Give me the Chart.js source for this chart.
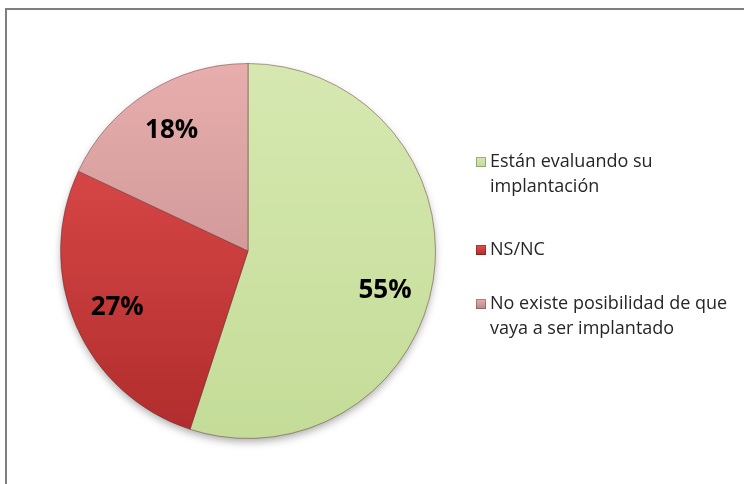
<!DOCTYPE html>
<html>
<head>
<meta charset="utf-8">
<script src="https://cdn.jsdelivr.net/npm/chart.js@4.4.1/dist/chart.umd.min.js"></script>
<style>
  html,body{margin:0;padding:0;background:#fff;}
  #wrap{width:744px;height:484px;position:relative;}
</style>
</head>
<body>
<div id="wrap"><canvas id="c" width="744" height="484"></canvas></div>
<script>
const categories = [
  ["Están evaluando su", "implantación"],
  ["NS/NC"],
  ["No existe posibilidad de que", "vaya a ser implantado"]
];
const values = [55, 27, 18];
const valueLabels = ["55%", "27%", "18%"];
const topColors = ["#D6E8B0", "#E55050", "#E8AEAE"];
const bottomColors = ["#C4DC98", "#B02C2C", "#BC8686"];

const FONT = "'Open Sans', Lato, sans-serif";
// where along each slice's arc its label sits (0 = start, 1 = end)
const labelArcFraction = [0.535, 0.5, 0.5];

function sliceGradient(ctx, i) {
  const chart = ctx.chart;
  const area = chart.chartArea;
  if (!area) return topColors[i];
  const g = chart.ctx.createLinearGradient(0, area.top, 0, area.bottom);
  g.addColorStop(0, topColors[i]);
  g.addColorStop(1, bottomColors[i]);
  return g;
}

const framePlugin = {
  id: 'frame',
  beforeDraw(chart) {
    const c = chart.ctx;
    c.save();
    c.fillStyle = '#fff';
    c.fillRect(0, 0, chart.width, chart.height);
    c.strokeStyle = '#7f7f7f';
    c.lineWidth = 2;
    c.strokeRect(6, 9, 900, 700);
    c.restore();
  },
  beforeDatasetsDraw(chart) {
    const meta = chart.getDatasetMeta(0);
    if (!meta.data.length) return;
    const a = meta.data[0];
    const c = chart.ctx;
    c.save();
    c.shadowColor = 'rgba(0,0,0,0.35)';
    c.shadowBlur = 8;
    c.shadowOffsetY = 4;
    c.fillStyle = '#ccc';
    c.beginPath();
    c.arc(a.x, a.y, a.outerRadius - 1, 0, Math.PI * 2);
    c.fill();
    c.restore();
  }
};

const labelPlugin = {
  id: 'sliceLabels',
  afterDatasetsDraw(chart) {
    const meta = chart.getDatasetMeta(0);
    const c = chart.ctx;
    c.save();
    c.font = "bold 26px " + FONT;
    c.fillStyle = '#000';
    c.textAlign = 'center';
    c.textBaseline = 'middle';
    meta.data.forEach((arc, i) => {
      const f = labelArcFraction[i];
      const ang = arc.startAngle + (arc.endAngle - arc.startAngle) * f;
      const r = arc.outerRadius * 0.76;
      c.fillText(valueLabels[i], arc.x + Math.cos(ang) * r, arc.y + Math.sin(ang) * r);
    });
    c.restore();
  }
};

const legendPlugin = {
  id: 'sideLegend',
  afterDraw(chart) {
    const c = chart.ctx;
    const x0 = 476, tx = 490;
    const starts = [162, 250, 304];
    const lh = 24.5;
    c.save();
    c.font = "18px " + FONT;
    c.textBaseline = 'middle';
    c.textAlign = 'left';
    categories.forEach((lines, i) => {
      const y = starts[i];
      const g = c.createLinearGradient(0, y - 5, 0, y + 5);
      g.addColorStop(0, topColors[i]);
      g.addColorStop(1, bottomColors[i]);
      c.fillStyle = g;
      c.fillRect(x0, y - 5, 10, 10);
      c.strokeStyle = 'rgba(0,0,0,0.25)';
      c.lineWidth = 1;
      c.strokeRect(x0 + 0.5, y - 4.5, 9, 9);
      c.fillStyle = '#262626';
      lines.forEach((t, k) => c.fillText(t, tx, y + k * lh));
    });
    c.restore();
  }
};

new Chart(document.getElementById('c'), {
  type: 'pie',
  data: {
    labels: categories.map(l => l.join(' ')),
    datasets: [{
      data: values,
      backgroundColor: (ctx) => sliceGradient(ctx, ctx.dataIndex),
      borderColor: 'rgba(90,40,40,0.45)',
      borderWidth: 1
    }]
  },
  options: {
    responsive: false,
    animation: false,
    rotation: 0,
    layout: { padding: { left: 60, right: 308, top: 63, bottom: 45 } },
    plugins: {
      legend: { display: false },
      tooltip: { enabled: false }
    }
  },
  plugins: [framePlugin, labelPlugin, legendPlugin]
});
</script>
</body>
</html>
